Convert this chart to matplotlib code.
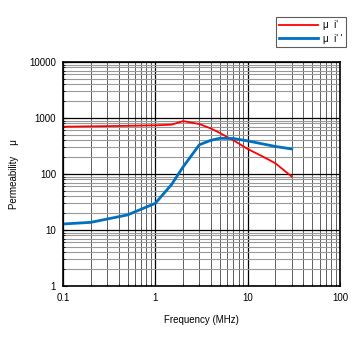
import matplotlib
matplotlib.use("Agg")
import matplotlib.pyplot as plt
from matplotlib.ticker import LogLocator, NullFormatter

plt.rcParams['font.family'] = ['Liberation Sans', 'DejaVu Sans']

freq_r = [0.1, 0.2, 0.5, 1.0, 1.5, 2.0, 3.0, 4.0, 5.0, 7.0, 10.0, 15.0, 20.0, 30.0]
mu_r = [700, 710, 725, 740, 760, 880, 780, 650, 540, 400, 280, 200, 155, 90]
freq_b = [0.1, 0.2, 0.5, 1.0, 1.5, 2.0, 3.0, 4.0, 5.0, 7.0, 10.0, 20.0, 30.0]
mu_b = [12.8, 13.7, 18.6, 30, 65, 134, 333, 400, 435, 430, 390, 310, 280]

fig = plt.figure(figsize=(3.56, 3.37), dpi=100)
ax = fig.add_axes([63/356, 1-286/337, (340-63)/356, (286-62)/337])

ax.set_xscale('log')
ax.set_yscale('log')
ax.set_xlim(0.1, 100)
ax.set_ylim(1, 10000)

ax.xaxis.set_minor_locator(LogLocator(base=10, subs=range(2, 10)))
ax.yaxis.set_minor_locator(LogLocator(base=10, subs=range(2, 10)))
ax.xaxis.set_minor_formatter(NullFormatter())
ax.yaxis.set_minor_formatter(NullFormatter())
ax.set_xticks([0.1, 1, 10, 100])
ax.set_xticklabels(['0.1', '1', '10', '100'])
ax.set_yticks([1, 10, 100, 1000, 10000])
ax.set_yticklabels(['1', '10', '100', '1000', '10000'])

ax.grid(True, which='major', color='black', lw=0.9)
ax.grid(True, which='minor', axis='x', color='#444444', lw=0.6)
ax.grid(True, which='minor', axis='y', color='#999999', lw=0.8)
ax.set_axisbelow(True)

ax.plot(freq_r, mu_r, color='#ff0000', lw=1.3, label="μ  i'")
ax.plot(freq_b, mu_b, color='#0070c0', lw=2.0, label="μ  i' '")

for s in ax.spines.values():
    s.set_color('black')
    s.set_linewidth(1.2)

ax.tick_params(which='both', direction='in', labelsize=7, colors='black', top=False, right=False)
ax.tick_params(which='major', length=3, width=0.8, pad=5)
ax.tick_params(which='minor', length=1.5, width=0.6)

ax.set_xlabel('Frequency (MHz)', fontsize=7, labelpad=9)
ax.set_ylabel('Permeability    μ', fontsize=7, labelpad=7)

leg = fig.legend(loc='upper left', bbox_to_anchor=(276/356, 1-17/337), fontsize=7,
                 frameon=True, fancybox=False, edgecolor='#333333', handlelength=4.0,
                 borderpad=0.35, labelspacing=0.35, handletextpad=0.5, borderaxespad=0)
leg.get_frame().set_linewidth(0.8)

fig.savefig('out.png', dpi=100)
